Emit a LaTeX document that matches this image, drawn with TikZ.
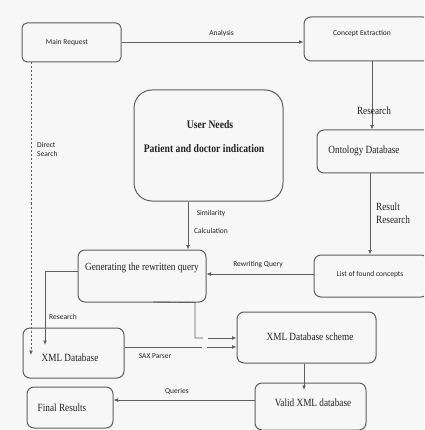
\documentclass[tikz,border=0pt]{standalone}
\usepackage{fontspec}
\setmainfont{Liberation Serif}
\newfontfamily\serifcond[FakeStretch=0.84]{Liberation Serif}
\newfontfamily\sanslabel{Carlito}
\usetikzlibrary{arrows.meta,calc}

\definecolor{pagebg}{HTML}{F7F7F7}
\definecolor{edgegray}{HTML}{5E5E5E}
\definecolor{inkgray}{HTML}{222222}

\tikzset{
  box/.style={draw=edgegray, line width=1pt, rounded corners=7pt, inner sep=0pt},
  smallbox/.style={box, rounded corners=5pt},
  bigbox/.style={box, rounded corners=18pt},
  seriftext/.style={text=inkgray, font=\serifcond\fontsize{11}{13}\selectfont, inner sep=0pt},
  boldtext/.style={text=inkgray, font=\serifcond\bfseries\fontsize{11.5}{13}\selectfont, inner sep=0pt},
  sanstext/.style={text=inkgray, font=\sanslabel\fontsize{7.5}{9}\selectfont, inner sep=0pt},
  flow/.style={draw=edgegray, line width=0.9pt, -{Latex[length=4.5pt,width=4pt]}},
  plainflow/.style={draw=edgegray, line width=0.9pt},
  dotflow/.style={flow, dash pattern=on 2pt off 2pt},
}

\begin{document}
\begin{tikzpicture}[x=1pt, y=-1pt]
  \fill[pagebg] (0,0) rectangle (424,430);
  \useasboundingbox (0,0) rectangle (424,430);
  \clip (0,0) rectangle (424,430);

  % boxes
  \node[smallbox, minimum width=99pt, minimum height=39pt] (main) at (71.5,42.5) {};
  \node[sanstext] (maintxt) at (67,43) {Main Request};

  \node[box, minimum width=126pt, minimum height=44pt] (concept) at (367,39) {};
  \node[sanstext] (concepttxt) at (362,34) {Concept Extraction};

  \node[box, minimum width=114pt, minimum height=43pt] (onto) at (374,151.5) {};
  \node[seriftext] (ontotxt) at (364,151) {Ontology Database};

  \node[box, minimum width=114pt, minimum height=42pt] (list) at (371,276) {};
  \node[sanstext] (listtxt) at (370,274) {List of found concepts};

  \node[bigbox, minimum width=149pt, minimum height=111pt] (needs) at (208.5,145.5) {};
  \node[boldtext] (needs1) at (210,125) {User Needs};
  \node[boldtext] (needs2) at (204,149) {Patient and doctor indication};

  \node[box, minimum width=128pt, minimum height=52pt] (gen) at (142,276) {};
  \node[seriftext] (gentxt) at (142,268) {Generating the rewritten query};

  \node[box, minimum width=101pt, minimum height=50pt] (xmldb) at (73.5,353) {};
  \node[seriftext] (xmldbtxt) at (70,358) {XML Database};

  \node[box, minimum width=139pt, minimum height=51pt] (scheme) at (306.5,337.5) {};
  \node[seriftext] (schemetxt) at (310,337) {XML Database scheme};

  \node[box, minimum width=111pt, minimum height=47pt] (valid) at (310.5,406.5) {};
  \node[seriftext] (validtxt) at (313,403) {Valid XML database};

  \node[box, minimum width=86pt, minimum height=41pt] (final) at (70,407.5) {};
  \node[seriftext] (finaltxt) at (62,408) {Final Results};

  % connectors
  \draw[flow] (main.east |- 0,42) -- (concept.west |- 0,42)
    node[sanstext, pos=0.55, above=5pt] (lblanalysis) {Analysis};

  \draw[flow] ([xshift=5pt]concept.south) -- ([xshift=5pt]concept.south |- onto.north);
  \node[seriftext] (lblresearch) at (374,111) {Research};

  \draw[flow] ([xshift=-4pt]onto.south) -- ([xshift=-4pt]onto.south |- list.north);
  \node[seriftext, align=left, anchor=west] (lblresult) at (376,213) {Result\\Research};

  \draw[flow] (list.west |- 0,274) -- (gen.east |- 0,274);
  \node[sanstext] (lblrewrite) at (258,265) {Rewriting Query};

  \draw[flow] (needs.south -| 188,0) -- (gen.north -| 188,0);
  \node[sanstext] (lblsim) at (211,213) {Similarity};
  \node[sanstext] (lblcalc) at (211,231) {Calculation};

  \draw[flow] (gen.west |- 0,271) -| (45,345);
  \node[sanstext] (lblresearch2) at (63,317) {Research};

  \draw[dotflow] (main.south -| 31,0) -- (31,355);
  \node[sanstext, align=left, anchor=west] (lbldirect) at (37,149) {Direct\\Search};

  \coordinate (saxgapA) at (202,347);
  \coordinate (saxgapB) at (207,347);
  \draw[plainflow] (xmldb.east |- 0,347) -- (saxgapA);
  \draw[flow] (saxgapB) -- (scheme.west |- 0,347);
  \node[sanstext] (lblsax) at (155,356) {SAX Parser};

  \coordinate (gengapA) at (203,338);
  \coordinate (gengapB) at (208,338);
  \draw[plainflow] (153,302) -- (gen.south -| 195,0) -- (195,338) -- (gengapA);
  \draw[flow] (gengapB) -- (scheme.west |- 0,338);

  \draw[flow] (scheme.south -| 304,0) -- (304,390);

  \draw[flow] (valid.west |- 0,400) -- (final.east |- 0,400);
  \node[sanstext] (lblqueries) at (177,391) {Queries};
\end{tikzpicture}
\end{document}
